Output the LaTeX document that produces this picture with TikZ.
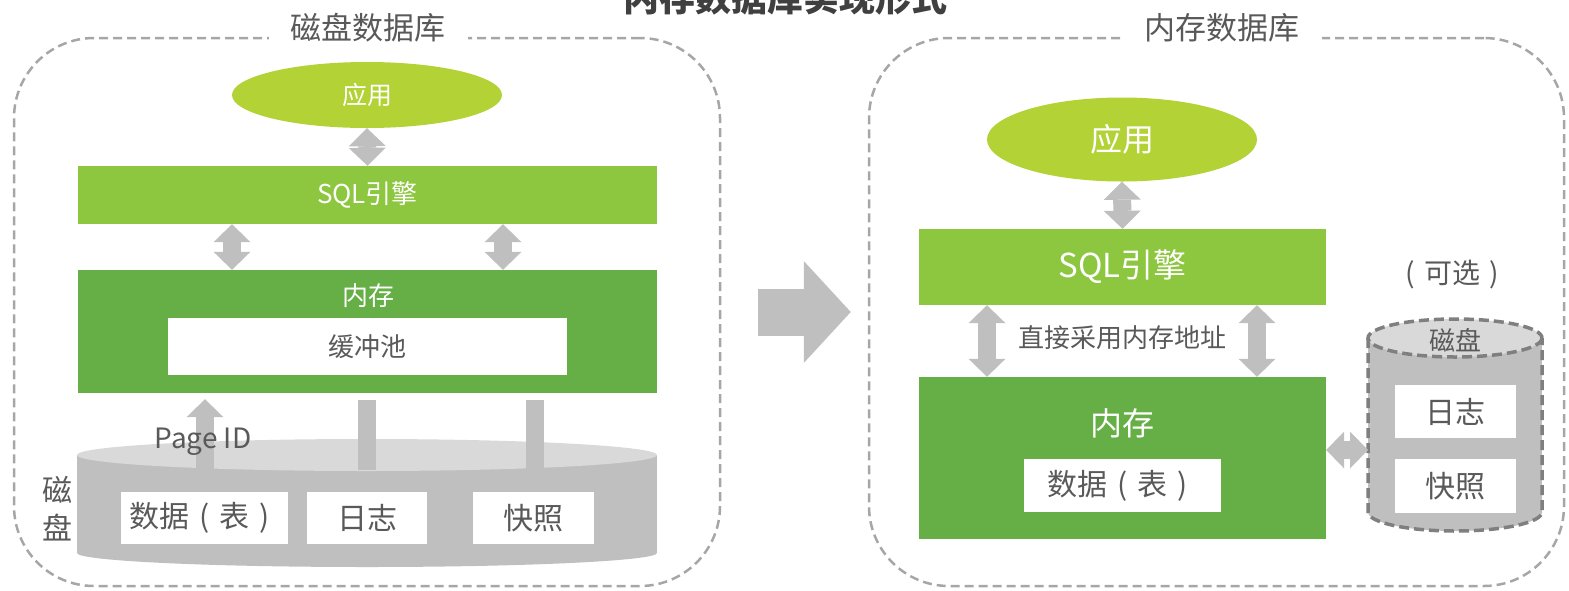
\documentclass[tikz,border=0pt]{standalone}
\usepackage{fontspec}
\setmainfont{Noto Sans CJK SC}
\usetikzlibrary{arrows.meta,shapes.geometric}
\definecolor{appgreen}{RGB}{178,210,53}
\definecolor{sqlgreen}{RGB}{141,198,63}
\definecolor{memgreen}{RGB}{102,174,70}
\definecolor{arrowgray}{RGB}{191,191,191}
\definecolor{disktop}{RGB}{217,217,217}
\definecolor{textgray}{RGB}{89,89,89}
\definecolor{titlegray}{RGB}{64,64,64}
\definecolor{framegray}{RGB}{166,166,166}
\definecolor{cylgray}{RGB}{127,127,127}
\newcommand{\cparen}[1]{\makebox[1em][c]{#1}}
\tikzset{
  frame/.style={draw=framegray, line width=2.5pt, dash pattern=on 9pt off 5pt, rounded corners=80pt,
    minimum height=548pt},
  framelabel/.style={fill=white, text=textgray, inner xsep=22pt, font=\fontsize{31}{36}\selectfont},
  app/.style={ellipse, fill=appgreen, text=white, inner sep=0pt},
  layer/.style={rectangle, inner sep=0pt, text=white},
  whitebox/.style={rectangle, fill=white, inner sep=0pt, text=textgray},
  grey/.style={text=textgray},
  twoway/.style={draw=arrowgray, line width=18pt,
    {Triangle[width=37pt,length=18pt,line width=0pt]}-{Triangle[width=37pt,length=18pt,line width=0pt]}},
  oneway/.style={draw=arrowgray, line width=18pt, -{Triangle[width=37pt,length=18pt,line width=0pt]}},
  bar/.style={draw=arrowgray, line width=18pt},
  bigarrow/.style={draw=arrowgray, line width=47pt, -{Triangle[width=102pt,length=47pt,line width=0pt]}},
  cylborder/.style={draw=cylgray, line width=3.5pt, dash pattern=on 10pt off 5pt}
}

\begin{document}
\begin{tikzpicture}[x=1pt,y=-1pt]
    \useasboundingbox (0,0) rectangle (1569,590);
    % frames
    \node[frame, minimum width=706pt] (lframe) at (367,312) {};
    \node[frame, minimum width=695pt] (rframe) at (1216.5,312) {};
    \node[framelabel] (lframelbl) at (368,28) {磁盘数据库};
    \node[framelabel] (rframelbl) at (1222,28) {内存数据库};
    \node[text=titlegray, font=\bfseries\fontsize{36}{40}\selectfont] (title) at (785,-2) {内存数据库实现形式};
    %
    % disk based: left
    \node[app, minimum width=270pt, minimum height=66pt, font=\fontsize{25}{30}\selectfont] (lapp) at (367,95) {应用};
    \node[layer, fill=sqlgreen, minimum width=579pt, minimum height=58pt, font=\fontsize{26}{30}\selectfont] (lsql) at (367.5,195) {SQL引擎};
    \node[layer, fill=memgreen, minimum width=579pt, minimum height=123pt] (lmem) at (367.5,331.5) {};
    \node[text=white, font=\fontsize{26}{30}\selectfont] (lmemlbl) at (368,296) {内存};
    \node[whitebox, minimum width=399pt, minimum height=57pt, font=\fontsize{26}{30}\selectfont] (lpool) at (367.5,346.5) {缓冲池};
    \draw[twoway] (lapp.south) -- (lsql.north);
    \draw[twoway] (lsql.south -| 232,0) -- (lmem.north -| 232,0);
    \draw[twoway] (lsql.south -| 503,0) -- (lmem.north -| 503,0);
    % disk cylinder
    \fill[arrowgray] (77,455) rectangle (657,553);
    \fill[arrowgray] (367,553) ellipse [x radius=290, y radius=14];
    \fill[disktop] (367,455) ellipse [x radius=290, y radius=16];
    \coordinate (pid) at (205,470);
    \coordinate (lbarA) at (367,470);
    \coordinate (lbarB) at (535,470);
    \draw[oneway] (pid) -- ([yshift=-6pt]lmem.south -| pid);
    \draw[bar] (lbarA) -- ([yshift=-7pt]lmem.south -| lbarA);
    \draw[bar] (lbarB) -- ([yshift=-7pt]lmem.south -| lbarB);
    \node[grey, font=\fontsize{28}{32}\selectfont] (pidlbl) at (203,442) {Page ID};
    \node[grey, align=center, font=\fontsize{30}{38}\selectfont] (ldisklbl) at (57,509) {磁\\盘};
    \node[whitebox, minimum width=167pt, minimum height=52pt, font=\fontsize{30}{34}\selectfont] (ldata) at (204.5,518) {数据\cparen{(}表\cparen{)}};
    \node[whitebox, minimum width=120pt, minimum height=52pt, font=\fontsize{30}{34}\selectfont] (llog) at (367,518) {日志};
    \node[whitebox, minimum width=121pt, minimum height=52pt, font=\fontsize{30}{34}\selectfont] (lsnap) at (533.5,518) {快照};
    %
    \draw[bigarrow] ([xshift=37pt]lframe.east) -- ([xshift=-17pt]rframe.west);
    %
    % in memory: right
    \node[app, minimum width=270pt, minimum height=84pt, font=\fontsize{32}{36}\selectfont] (rapp) at (1122,139.5) {应用};
    \node[layer, fill=sqlgreen, minimum width=407pt, minimum height=76pt, font=\fontsize{33}{38}\selectfont] (rsql) at (1122.5,267) {SQL引擎};
    \node[layer, fill=memgreen, minimum width=407pt, minimum height=162pt] (rmem) at (1122.5,458) {};
    \node[text=white, font=\fontsize{32}{36}\selectfont] (rmemlbl) at (1122,423) {内存};
    \node[whitebox, minimum width=197pt, minimum height=53pt, font=\fontsize{30}{34}\selectfont] (rdata) at (1122.5,485.5) {数据\cparen{(}表\cparen{)}};
    \draw[twoway] (rapp.south) -- (rsql.north);
    \draw[twoway] (rsql.south -| 987,0) -- (rmem.north -| 987,0);
    \draw[twoway] (rsql.south -| 1257,0) -- (rmem.north -| 1257,0);
    \node[grey, font=\fontsize{26}{30}\selectfont] (direct) at (1122,338) {直接采用内存地址};
    % optional disk
    \fill[arrowgray] (1368,338) rectangle (1542,512);
    \fill[arrowgray] (1455,512) ellipse [x radius=87, y radius=19];
    \draw[cylborder] (1368,338) -- (1368,512) arc[start angle=180, end angle=360, x radius=87pt, y radius=19pt] -- (1542,338);
    \filldraw[cylborder, fill=disktop] (1455,338) ellipse [x radius=87, y radius=19];
    \coordinate (rdisk) at (1368,450);
    \node[grey, font=\fontsize{28}{32}\selectfont] (optional) at (1452,275) {\cparen{(}可选\cparen{)}};
    \node[grey, font=\fontsize{26}{30}\selectfont] (rdisklbl) at (1455,340) {磁盘};
    \node[whitebox, minimum width=121pt, minimum height=53pt, font=\fontsize{30}{34}\selectfont] (rlog) at (1455.5,411.5) {日志};
    \node[whitebox, minimum width=121pt, minimum height=54pt, font=\fontsize{30}{34}\selectfont] (rsnap) at (1455.5,486) {快照};
    \draw[twoway] (rmem.east |- rdisk) -- (rdisk);
\end{tikzpicture}
\end{document}
